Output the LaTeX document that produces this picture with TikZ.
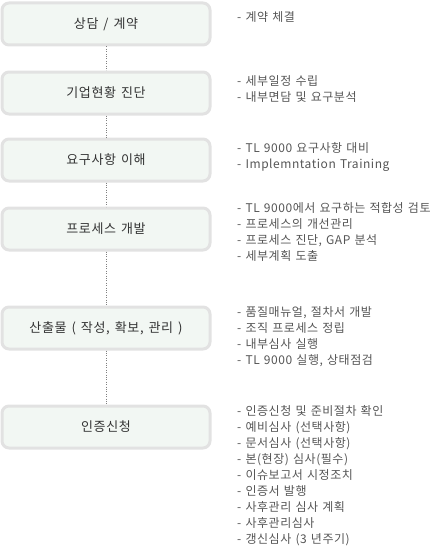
\documentclass[tikz,border=0pt]{standalone}
\usepackage{fontspec}
\newfontfamily\krfont{Noto Sans CJK KR}[LetterSpace=5, WordSpace=1.4]
\newfontfamily\krnote{Noto Sans CJK KR}[LetterSpace=4.5, WordSpace=1.3]
\usetikzlibrary{positioning}
\definecolor{boxline}{HTML}{E2E2E2}
\definecolor{boxfill}{HTML}{F2F7F3}
\definecolor{stepink}{HTML}{333333}
\definecolor{noteink}{HTML}{555555}

\begin{document}
\begin{tikzpicture}[
  x=1pt, y=-1pt,
  stage/.style={draw=boxline, line width=3pt, fill=boxfill, rounded corners=7pt,
                minimum width=208pt, minimum height=42pt, inner sep=0pt,
                text=stepink, font=\krfont\fontsize{13}{15}\selectfont},
  note/.style={anchor=north west, align=left, inner sep=0pt, text=noteink,
               font=\krnote\fontsize{12}{16}\selectfont},
  link/.style={draw=gray, dotted, thin}
]
  \useasboundingbox (0,0) rectangle (446,551);

  \node[stage] (consult) at (106,24)  {상담 / 계약};
  \node[stage] (diag)    at (106,93)  {기업현황 진단};
  \node[stage] (req)     at (106,160) {요구사항 이해};
  \node[stage] (proc)    at (106,229) {프로세스 개발};
  \node[stage] (output)  at (106,328) {산출물 ( 작성, 확보, 관리 )};
  \node[stage] (cert)    at (106,427) {인증신청};

  \node[note] (n1) at (237,11)  {- 계약 체결};
  \node[note] (n2) at (237,75)  {- 세부일정 수립\\- 내부면담 및 요구분석};
  \node[note] (n3) at (237,142) {- TL 9000 요구사항 대비\\- Implemntation Training};
  \node[note] (n4) at (237,202) {- TL 9000에서 요구하는 적합성 검토\\- 프로세스의 개선관리\\- 프로세스 진단, GAP 분석\\- 세부계획 도출};
  \node[note] (n5) at (237,306) {- 품질매뉴얼, 절차서 개발\\- 조직 프로세스 정립\\- 내부심사 실행\\- TL 9000 실행, 상태점검};
  \node[note] (n6) at (237,405) {- 인증신청 및 준비절차 확인\\- 예비심사 (선택사항)\\- 문서심사 (선택사항)\\- 본(현장) 심사(필수)\\- 이슈보고서 시정조치\\- 인증서 발행\\- 사후관리 심사 계획\\- 사후관리심사\\- 갱신심사 (3 년주기)};

  \draw[link] (consult) -- (diag);
  \draw[link] (diag)    -- (req);
  \draw[link] (req)     -- (proc);
  \draw[link] (proc)    -- (output);
  \draw[link] (output)  -- (cert);
\end{tikzpicture}
\end{document}
